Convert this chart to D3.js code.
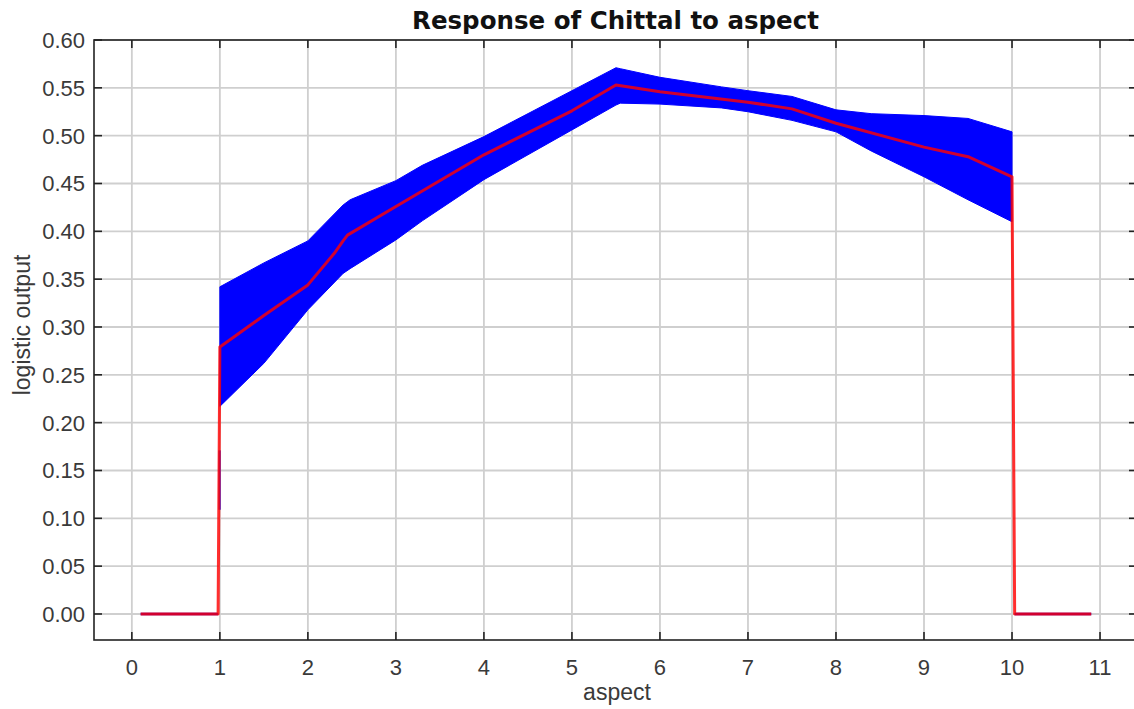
<!DOCTYPE html>
<html>
<head>
<meta charset="utf-8">
<script src="https://cdn.jsdelivr.net/npm/d3@7"></script>
<style>
  html, body { margin: 0; padding: 0; background: #ffffff; }
  svg { display: block; }
</style>
</head>
<body>
<svg id="chart" width="1134" height="709"></svg>
<script>
// Mean logistic response along aspect
const aspect = [0.1, 0.98, 1.0, 1.5, 2.0, 2.3, 2.4, 2.45, 3.0, 4.0, 5.0, 5.5, 6.0, 7.0, 7.5, 8.0, 9.0, 9.5, 10.0, 10.03, 10.9];
const meanResponse = [0, 0, 0.279, 0.312, 0.344, 0.377, 0.390, 0.396, 0.426, 0.480, 0.526, 0.553, 0.546, 0.535, 0.528, 0.513, 0.488, 0.478, 0.457, 0, 0];

// Spread of the response (min / max over replicates)
const bandAspect = [1.0, 1.5, 2.0, 2.4, 2.48, 3.0, 3.3, 4.0, 5.0, 5.5, 5.55, 6.0, 6.7, 7.0, 7.5, 8.0, 8.4, 9.0, 9.5, 10.0];
const bandUpper  = [0.342, 0.367, 0.390, 0.4275, 0.433, 0.453, 0.469, 0.499, 0.547, 0.571, 0.570, 0.561, 0.551, 0.547, 0.541, 0.527, 0.523, 0.521, 0.518, 0.504];
const bandLower  = [0.217, 0.262, 0.318, 0.356, 0.361, 0.391, 0.411, 0.454, 0.506, 0.532, 0.534, 0.533, 0.529, 0.525, 0.516, 0.504, 0.484, 0.457, 0.433, 0.410];

// Zero-output stretches of the band outside the sampled range
const zeroAspectLeft = [0.1, 0.98];
const zeroAspectRight = [10.03, 10.9];
// Narrow spike of the band at the lower step
const stepAspect = [0.995, 0.999];
const stepUpper = [0.17, 0.17];
const stepLower = [0.11, 0.11];

const xTicks = [0, 1, 2, 3, 4, 5, 6, 7, 8, 9, 10, 11];
const yTicks = [0, 0.05, 0.10, 0.15, 0.20, 0.25, 0.30, 0.35, 0.40, 0.45, 0.50, 0.55, 0.60];

const titleText = "Response of Chittal to aspect";
const xLabel = "aspect";
const yLabel = "logistic output";

const svg = d3.select("#chart");
const plotLeft = 94, plotRight = 1137, plotTop = 40, plotBottom = 640;

const x = d3.scaleLinear().domain([-0.43, 11.42]).range([plotLeft, plotRight]);
const y = d3.scaleLinear().domain([-0.0272, 0.6]).range([plotBottom, plotTop]);

const g = svg.append("g");

// grid
g.append("g").selectAll("line").data(xTicks).join("line")
  .attr("x1", d => x(d)).attr("x2", d => x(d))
  .attr("y1", plotTop).attr("y2", plotBottom)
  .attr("stroke", "#cfcfcf").attr("stroke-width", 1.8);
g.append("g").selectAll("line").data(yTicks).join("line")
  .attr("x1", plotLeft).attr("x2", plotRight)
  .attr("y1", d => y(d)).attr("y2", d => y(d))
  .attr("stroke", "#cfcfcf").attr("stroke-width", 1.8);

// band
const bandData = bandAspect.map((a, i) => ({a, hi: bandUpper[i], lo: bandLower[i]}));
const area = d3.area().x(d => x(d.a)).y0(d => y(d.lo)).y1(d => y(d.hi));
g.append("path").datum(bandData).attr("d", area)
  .attr("fill", "#0000ff").attr("stroke", "#0000ff").attr("stroke-width", 1);
const stepData = stepAspect.map((a, i) => ({a, hi: stepUpper[i], lo: stepLower[i]}));
g.append("path").datum(stepData).attr("d", area)
  .attr("fill", "#0000ff").attr("stroke", "#3020e0").attr("stroke-width", 2);

const zeroLine = d3.line().x(d => x(d)).y(() => y(0));
[zeroAspectLeft, zeroAspectRight].forEach(seg => {
  g.append("path").datum(seg).attr("d", zeroLine)
    .attr("fill", "none").attr("stroke", "#0000ff").attr("stroke-width", 2.5);
});

// mean response
const meanData = aspect.map((a, i) => ({a, v: meanResponse[i]}));
g.append("path").datum(meanData)
  .attr("d", d3.line().x(d => x(d.a)).y(d => y(d.v)))
  .attr("fill", "none").attr("stroke", "#ff0000").attr("stroke-opacity", 0.82)
  .attr("stroke-width", 3).attr("stroke-linejoin", "round");

// frame with inward ticks
const frame = svg.append("g");
frame.append("rect").attr("x", plotLeft).attr("y", plotTop)
  .attr("width", plotRight - plotLeft).attr("height", plotBottom - plotTop)
  .attr("fill", "none").attr("stroke", "#222").attr("stroke-width", 1.6);

const tickLen = 8;
frame.append("g").selectAll("line").data(xTicks).join("line")
  .attr("x1", d => x(d)).attr("x2", d => x(d))
  .attr("y1", plotBottom).attr("y2", plotBottom - tickLen)
  .attr("stroke", "#222").attr("stroke-width", 1.6);
frame.append("g").selectAll("line").data(xTicks).join("line")
  .attr("x1", d => x(d)).attr("x2", d => x(d))
  .attr("y1", plotTop).attr("y2", plotTop + tickLen)
  .attr("stroke", "#222").attr("stroke-width", 1.6);
frame.append("g").selectAll("line").data(yTicks).join("line")
  .attr("x1", plotLeft).attr("x2", plotLeft + tickLen)
  .attr("y1", d => y(d)).attr("y2", d => y(d))
  .attr("stroke", "#222").attr("stroke-width", 1.6);
frame.append("g").selectAll("line").data(yTicks).join("line")
  .attr("x1", plotRight).attr("x2", plotRight - tickLen)
  .attr("y1", d => y(d)).attr("y2", d => y(d))
  .attr("stroke", "#222").attr("stroke-width", 1.6);

// tick labels
const font = "'Liberation Sans', Arial, sans-serif";
svg.append("g").selectAll("text").data(xTicks).join("text")
  .attr("x", d => x(d)).attr("y", 675)
  .attr("text-anchor", "middle")
  .attr("font-family", font).attr("font-size", 22).attr("fill", "#3a3a3a")
  .text(d => d3.format("d")(d));
svg.append("g").selectAll("text").data(yTicks).join("text")
  .attr("x", 85).attr("y", d => y(d) + 8)
  .attr("text-anchor", "end")
  .attr("font-family", font).attr("font-size", 22).attr("fill", "#3a3a3a")
  .text(d => d3.format(".2f")(d));

// titles
svg.append("text").attr("x", (plotLeft + plotRight) / 2).attr("y", 29)
  .attr("text-anchor", "middle")
  .attr("font-family", "'DejaVu Sans', Verdana, sans-serif").attr("font-weight", "bold")
  .attr("font-size", 24.5).attr("fill", "#111")
  .text(titleText);
svg.append("text").attr("x", 617).attr("y", 700)
  .attr("text-anchor", "middle")
  .attr("font-family", font).attr("font-size", 23).attr("fill", "#3a3a3a")
  .text(xLabel);
svg.append("text")
  .attr("transform", "translate(30," + 325 + ") rotate(-90)")
  .attr("text-anchor", "middle")
  .attr("font-family", font).attr("font-size", 23).attr("fill", "#3a3a3a")
  .text(yLabel);
</script>
</body>
</html>
